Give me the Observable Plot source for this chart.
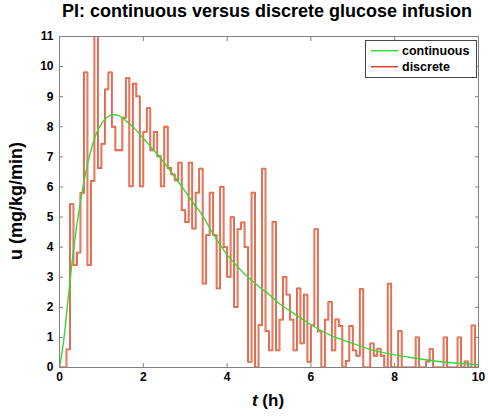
<!DOCTYPE html>
<html><head><meta charset="utf-8">
<script src="https://cdn.jsdelivr.net/npm/d3@7"></script>
<script src="https://cdn.jsdelivr.net/npm/@observablehq/plot@0.6"></script>
<style>body{margin:0;background:#fff} svg{display:block}</style>
</head><body><div id="chart"></div>
<script>
// discrete infusion: one value per 5-minute step, 0..10 h
const stepHours = 5 / 60;
const discreteU = [
  0, 0, 0.6, 5.43, 3.4, 3.82, 5.8, 9.81, 3.4, 6.2,
  11.5, 6.63, 7.43, 9.24, 9.81, 8.0, 7.22, 7.22, 8.3, 9.62,
  6.02, 9.43, 9.01, 6.02, 7.83, 8.62, 7.22, 7.83, 7.02, 6.02,
  8.0, 6.63, 6.42, 6.22, 6.81, 5.23, 4.83, 6.81, 4.62, 5.81,
  6.61, 2.79, 4.40, 5.81, 4.40, 2.63, 6.0, 4.0, 3.01, 5.0,
  2.01, 4.6, 4.82, 4.0, 0.19, 5.81, 0, 1.41, 6.61, 1.21,
  0.57, 4.84, 0.57, 1.59, 3.01, 2.42, 1.59, 0.57, 2.63, 0.8,
  2.42, 0.19, 1.41, 4.6, 1.2, 0, 1.59, 2.18, 0.57, 1.6,
  1.38, 0, 0.22, 1.38, 0.57, 0.39, 2.6, 0, 0, 0.8,
  0.39, 0.63, 0.39, 0, 2.79, 0, 0, 1.22, 0, 0,
  0, 0, 1.0, 0, 0, 0.2, 0.61, 0, 0, 0,
  1.0, 0, 0, 0, 1.0, 0, 0.2, 0, 1.4, 0
];
// continuous infusion curve
const contT = [0, 0.1, 0.2, 0.3, 0.4, 0.5, 0.6, 0.7, 0.8, 0.9, 1.0, 1.1, 1.2, 1.3, 1.4, 1.5, 1.6, 1.8, 2.0, 2.2, 2.4, 2.6, 2.8, 3.0, 3.2, 3.4, 3.6, 3.8, 4.0, 4.25, 4.5, 4.75, 5.0, 5.25, 5.5, 5.75, 6.0, 6.5, 7.0, 7.5, 8.0, 8.5, 9.0, 9.5, 10.0];
const contU = [0, 0.9, 2.2, 3.5, 4.6, 5.5, 6.3, 6.95, 7.45, 7.85, 8.1, 8.27, 8.37, 8.4, 8.38, 8.3, 8.18, 7.93, 7.62, 7.3, 6.98, 6.62, 6.24, 5.85, 5.45, 5.08, 4.6, 4.15, 3.75, 3.35, 3.0, 2.7, 2.43, 2.12, 1.88, 1.65, 1.42, 1.05, 0.8, 0.57, 0.42, 0.31, 0.21, 0.14, 0.09];

const xTicks = [0, 2, 4, 6, 8, 10];
const yTicks = [0, 1, 2, 3, 4, 5, 6, 7, 8, 9, 10, 11];
const seriesNames = ["continuous", "discrete"];
const seriesColors = ["#38d838", "#d8421f"];
const titleText = "PI: continuous versus discrete glucose infusion";

const discData = discreteU.map((u, i) => ({t: i * stepHours, u}));
discData.push({t: discreteU.length * stepHours, u: discreteU[discreteU.length - 1]});
const contData = contT.map((t, i) => ({t, u: contU[i]}));

const gray = "#808080";
const font = "'Liberation Sans', Arial, Helvetica, sans-serif";

const chart = Plot.plot({
  width: 488, height: 416,
  marginLeft: 59, marginRight: 10, marginTop: 36, marginBottom: 49,
  x: {domain: [0, 10]},
  y: {domain: [0, 11]},
  style: {fontFamily: font, fontSize: "12px", fontWeight: "bold", background: "white", color: "black"},
  marks: [
    Plot.axisX(xTicks, {anchor: "bottom", tickSize: -4, tickPadding: 9, stroke: gray, fill: "black", label: null}),
    Plot.axisX(xTicks, {anchor: "top", tickSize: -4, tickFormat: () => "", stroke: gray, label: null}),
    Plot.axisY(yTicks, {anchor: "left", tickSize: -4, tickPadding: 10, stroke: gray, fill: "black", label: null}),
    Plot.axisY(yTicks, {anchor: "right", tickSize: -4, tickFormat: () => "", stroke: gray, label: null}),
    Plot.line(discData, {x: "t", y: "u", curve: "step-after", stroke: seriesColors[1], strokeWidth: 1.8, clip: true}),
    Plot.line(discData, {x: "t", y: "u", curve: "step-after", stroke: "#f6c2b4", strokeWidth: 0.5, clip: true}),
    Plot.line(contData, {x: "t", y: "u", curve: "monotone-x", stroke: seriesColors[0], strokeWidth: 1.4, clip: true}),
    Plot.frame({stroke: gray})
  ]
});
document.getElementById("chart").appendChild(chart);

const svg = d3.select(chart);
svg.append("text").attr("x", 267).attr("y", 17).attr("text-anchor", "middle")
  .attr("font-family", font).attr("font-size", 18).attr("font-weight", "bold").text(titleText);

const xl = svg.append("text").attr("x", 268).attr("y", 406).attr("text-anchor", "middle")
  .attr("font-family", font).attr("font-size", 17).attr("font-weight", "bold");
xl.append("tspan").attr("font-style", "italic").text("t");
xl.append("tspan").text(" (h)");

svg.append("text").attr("transform", "translate(22,201) rotate(-90)").attr("text-anchor", "middle")
  .attr("font-family", font).attr("font-size", 18).attr("font-weight", "bold").text("u (mg/kg/min)");

// legend
const lg = svg.append("g");
lg.append("rect").attr("x", 365.5).attr("y", 40.5).attr("width", 111).attr("height", 37)
  .attr("fill", "white").attr("stroke", "#444").attr("stroke-width", 1);
seriesNames.forEach((name, i) => {
  const y = 50.7 + i * 16;
  lg.append("line").attr("x1", 371).attr("x2", 398).attr("y1", y).attr("y2", y)
    .attr("stroke", seriesColors[i]).attr("stroke-width", 1.5);
  lg.append("text").attr("x", 402).attr("y", y + 4).attr("text-anchor", "start").attr("font-family", font)
    .attr("font-size", 12.5).attr("font-weight", "bold").text(name);
});
</script>
</body></html>
